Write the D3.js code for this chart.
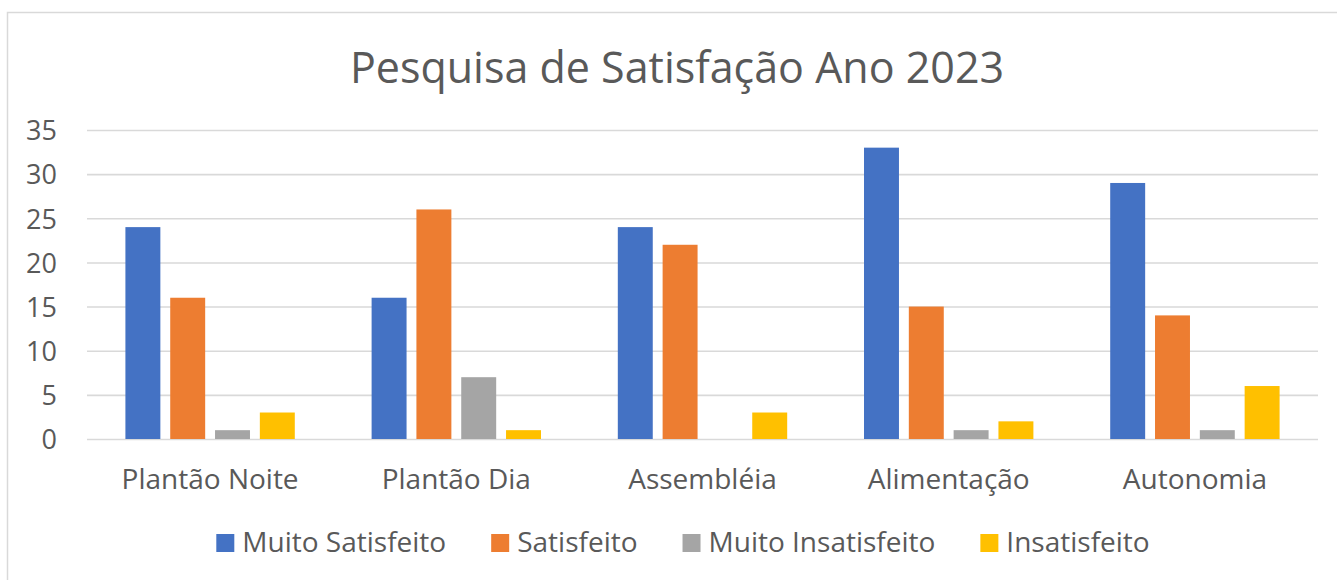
<!DOCTYPE html>
<html>
<head>
<meta charset="utf-8">
<script src="https://cdn.jsdelivr.net/npm/d3@7"></script>
<style>
  body { margin: 0; background: #fff; }
  text { font-family: "Open Sans", Lato, sans-serif; fill: #595959; }
</style>
</head>
<body>
<script>
// pesquisa de satisfação - barras agrupadas

const width = 1337;
const height = 580;
const margin = {top: 130, left: 87, bottom: 141, right: 19};

const categories = ['Plantão Noite', 'Plantão Dia', 'Assembléia', 'Alimentação', 'Autonomia'];
const seriesNames = ['Muito Satisfeito', 'Satisfeito', 'Muito Insatisfeito', 'Insatisfeito'];
const muitoSatisfeito = [24, 16, 24, 33, 29];
const satisfeito = [16, 26, 22, 15, 14];
const muitoInsatisfeito = [1, 7, 0, 1, 1];
const insatisfeito = [3, 1, 3, 2, 6];
const yTicks = [0, 5, 10, 15, 20, 25, 30, 35];
const colors = ['#4472C4', '#ED7D31', '#A5A5A5', '#FFC000'];

const seriesValues = [muitoSatisfeito, satisfeito, muitoInsatisfeito, insatisfeito];
const data = categories.map((c, i) => ({
    name: c,
    values: seriesNames.map((s, j) => ({series: s, value: seriesValues[j][i]}))
}));

const font = '"Open Sans", Lato, sans-serif';

const x0 = d3.scaleBand()
    .domain(categories)
    .range([margin.left, width - margin.right])
    .paddingInner(0.312)
    .paddingOuter(0.156);

const x1 = d3.scaleBand()
    .domain(seriesNames)
    .range([0, x0.bandwidth()])
    .paddingInner(0.22);

const y = d3.scaleLinear()
    .domain([0, 35])
    .range([height - margin.bottom, margin.top]);

const color = d3.scaleOrdinal().domain(seriesNames).range(colors);

const svg = d3.select('body').append('svg')
    .attr('width', width)
    .attr('height', height);

// moldura do gráfico
svg.append('rect')
    .attr('x', 7.5).attr('y', 12.5)
    .attr('width', width + 10).attr('height', height + 10)
    .attr('fill', 'none')
    .attr('stroke', '#d9d9d9')
    .attr('stroke-width', 1.5);

svg.append('text')
    .attr('x', 677).attr('y', 83)
    .attr('text-anchor', 'middle')
    .style('font-size', '43px')
    .text('Pesquisa de Satisfação Ano 2023');

// linhas de grade + rótulos do eixo y
const yAxis = g => g
    .attr('transform', `translate(${margin.left}, 0)`)
    .call(d3.axisLeft(y).tickValues(yTicks).tickSize(-(width - margin.left - margin.right)).tickPadding(30))
    .call(g => g.select('.domain').remove())
    .call(g => g.selectAll('.tick line').attr('stroke', '#d9d9d9').attr('stroke-width', 1.6))
    .call(g => g.selectAll('.tick text')
        .attr('fill', '#595959')
        .attr('dy', '0.36em')
        .style('font-size', '27px')
        .style('font-family', font));

svg.append('g').call(yAxis);

svg.append('g')
    .selectAll('g').data(data).enter().append('g')
    .attr('transform', d => `translate(${x0(d.name)}, 0)`)
    .selectAll('rect').data(d => d.values).enter().append('rect')
    .attr('x', d => x1(d.series))
    .attr('y', d => y(d.value))
    .attr('width', x1.bandwidth())
    .attr('height', d => y(0) - y(d.value))
    .attr('fill', d => color(d.series));

// rótulos das categorias
const xAxis = g => g
    .attr('transform', `translate(0, ${y(0)})`)
    .call(d3.axisBottom(x0).tickSize(0).tickPadding(30))
    .call(g => g.select('.domain').remove())
    .call(g => g.selectAll('.tick text')
        .attr('fill', '#595959')
        .style('font-size', '28px')
        .style('font-family', font));

svg.append('g').call(xAxis);

// legenda
const legend = svg.append('g');
const items = legend.selectAll('g').data(seriesNames).enter().append('g');
items.append('rect')
    .attr('width', 18).attr('height', 18)
    .attr('y', 534)
    .attr('fill', d => color(d));
items.append('text')
    .attr('x', 26).attr('y', 552)
    .style('font-size', '28px')
    .text(d => d);

let pos = 0;
const offsets = [];
items.each(function() {
    offsets.push(pos);
    pos += 26 + this.querySelector('text').getComputedTextLength() + 45;
});
const total = pos - 45;
const start = 683 - total / 2;
items.attr('transform', (d, i) => `translate(${start + offsets[i]}, 0)`);

svg.node();
</script>
</body>
</html>
